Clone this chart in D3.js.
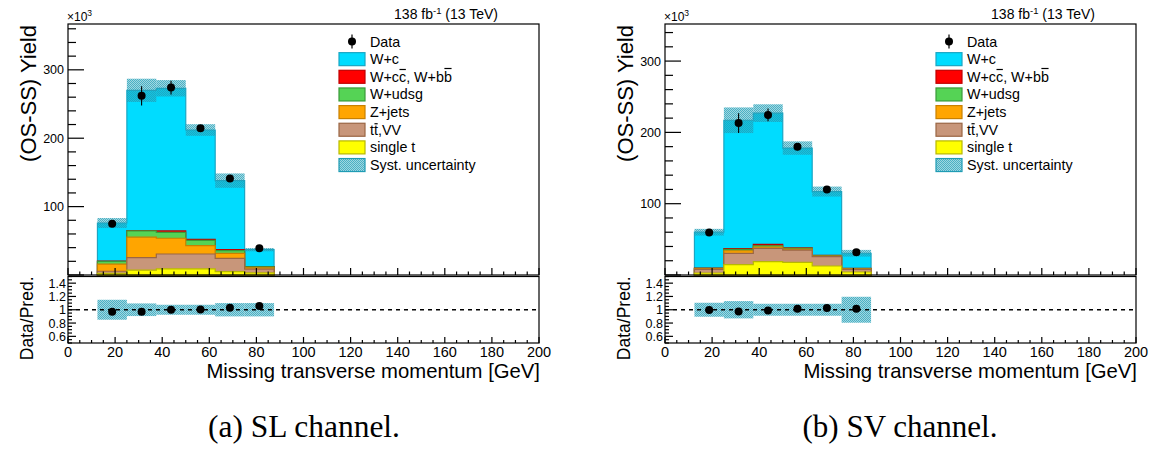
<!DOCTYPE html>
<html><head><meta charset="utf-8">
<script src="https://cdn.jsdelivr.net/npm/d3@7"></script>
<style>
html,body{margin:0;padding:0;background:#fff;}
svg{display:block;}
text{font-family:"Liberation Sans",Arial,sans-serif;fill:#000;}
</style></head>
<body>
<svg id="chart" width="1151" height="449"></svg>
<script>
// ---------------- DATA ----------------
const binEdges = [12.5, 25, 37.5, 50, 62.5, 75, 87.5];
const binCenters = [18.75, 31.25, 43.75, 56.25, 68.75, 81.25];
const xTickLabels = [0, 20, 40, 60, 80, 100, 120, 140, 160, 180, 200];
const yTickLabels = [100, 200, 300];
const ratioTickLabels = [0.6, 0.8, 1, 1.2, 1.4];
const legendLabels = ["Data", "W+c", "W+cc, W+bb", "W+udsg", "Z+jets", "tt,VV", "single t", "Syst. uncertainty"];
// characters (index) in each legend label that carry an overbar
const legendBars = [[], [], [3, 9], [], [], [1], [], []];
const captions = ["(a) SL channel.", "(b) SV channel."];

// SL channel (x10^3)
const slSingleT = [2.5, 7, 9, 9, 5, 3];
const slTtVV = [3, 18.3, 21.7, 21.7, 19.4, 5.5];
const slZjets = [10.5, 30, 23, 12.2, 7.3, 2];
const slWudsg = [4, 9.2, 8.7, 7.8, 3.9, 1.5];
const slWccbb = [0.3, 0.5, 2, 1.5, 1.4, 0.3];
const slWc = [55.7, 205, 208.6, 159.8, 101, 24.7];
const slSyst = [7.3, 17, 12, 8.5, 10.5, 2.4];
const slData = [75, 262, 274, 214.6, 141, 39];
const slDataErr = [3, 14, 10, 4, 5, 2];
const slRatio = [0.97, 0.97, 1.0, 1.005, 1.03, 1.055];
const slRatioErr = [0.15, 0.095, 0.075, 0.075, 0.1, 0.1];

// SV channel (x10^3)
const svSingleT = [2.8, 14.5, 18.7, 17.8, 12.6, 4.2];
const svTtVV = [5.2, 15.9, 18.7, 17.2, 13.1, 3.8];
const svZjets = [1, 3.6, 1.9, 1.2, 0.8, 0.7];
const svWudsg = [0.5, 2, 1.7, 1.2, 0.5, 0.3];
const svWccbb = [0.2, 1, 2, 0.6, 0.5, 0.2];
const svWc = [50.3, 180, 184, 140, 89.5, 21.3];
const svSyst = [4.7, 18, 12.4, 9.4, 7, 4.7];
const svData = [59.5, 213, 224.5, 180, 120, 31.8];
const svDataErr = [3, 14, 9, 5, 4, 2];
const svRatio = [0.995, 0.975, 0.99, 1.015, 1.025, 1.015];
const svRatioErr = [0.105, 0.13, 0.09, 0.09, 0.09, 0.195];

// ---------------- STYLE ----------------
const fills = ["#00dcff", "#ff0000", "#55d355", "#ffa500", "#c8967a", "#ffff00"];
const strokes = ["#1aa6c4", "#c00000", "#3a9a3a", "#c88000", "#9a6644", "#b8b800"];

const svg = d3.select("#chart");
const defs = svg.append("defs");
const pat = defs.append("pattern").attr("id", "hatch").attr("patternUnits", "userSpaceOnUse")
  .attr("width", 2).attr("height", 2);
pat.append("rect").attr("width", 2).attr("height", 2).attr("fill", "#2aa7bd").attr("fill-opacity", 0.45);
pat.append("rect").attr("x", 0).attr("y", 0).attr("width", 1).attr("height", 1).attr("fill", "#1f9cb4").attr("fill-opacity", 0.65);
pat.append("rect").attr("x", 1).attr("y", 1).attr("width", 1).attr("height", 1).attr("fill", "#1f9cb4").attr("fill-opacity", 0.65);

function drawPanel(cfg) {
  const g = svg.append("g");
  const x = d3.scaleLinear().domain([0, 200]).range([cfg.x0, cfg.x1]);
  const y = d3.scaleLinear().domain([0, cfg.yMax]).range([275, 24]);
  const yr = d3.scaleLinear().domain([0.5, 1.5]).range([343, 276.5]);

  const comps = [cfg.singleT, cfg.ttvv, cfg.zjets, cfg.wudsg, cfg.wccbb, cfg.wc];
  const compFill = [fills[5], fills[4], fills[3], fills[2], fills[1], fills[0]];
  const compStroke = [strokes[5], strokes[4], strokes[3], strokes[2], strokes[1], strokes[0]];
  const cum = [];
  let run = binCenters.map(() => 0);
  comps.forEach(c => { run = run.map((v, i) => v + c[i]); cum.push(run.slice()); });
  const total = cum[cum.length - 1];

  const line = d3.line().x(d => x(d[0])).y(d => y(d[1]));
  function stepPts(vals) {
    const pts = [[binEdges[0], 0]];
    vals.forEach((v, i) => { pts.push([binEdges[i], v]); pts.push([binEdges[i + 1], v]); });
    pts.push([binEdges[binEdges.length - 1], 0]);
    return pts;
  }
  for (let k = cum.length - 1; k >= 0; k--) {
    g.append("path").attr("d", line(stepPts(cum[k])) + "Z")
      .attr("fill", compFill[k]).attr("stroke", compStroke[k]).attr("stroke-width", 1.2);
  }
  g.selectAll(".syst").data(binCenters).enter().append("rect")
    .attr("x", (d, i) => x(binEdges[i])).attr("width", (d, i) => x(binEdges[i + 1]) - x(binEdges[i]))
    .attr("y", (d, i) => y(total[i] + cfg.syst[i]))
    .attr("height", (d, i) => y(total[i] - cfg.syst[i]) - y(total[i] + cfg.syst[i]))
    .attr("fill", "url(#hatch)");
  g.selectAll(".derr").data(binCenters).enter().append("line")
    .attr("x1", d => x(d)).attr("x2", d => x(d))
    .attr("y1", (d, i) => y(cfg.data[i] - cfg.dataErr[i])).attr("y2", (d, i) => y(cfg.data[i] + cfg.dataErr[i]))
    .attr("stroke", "#000").attr("stroke-width", 1.1);
  g.selectAll(".dpt").data(binCenters).enter().append("circle")
    .attr("cx", d => x(d)).attr("cy", (d, i) => y(cfg.data[i])).attr("r", 4).attr("fill", "#000");

  g.append("rect").attr("x", cfg.x0).attr("y", 24).attr("width", cfg.x1 - cfg.x0).attr("height", 251)
    .attr("fill", "none").attr("stroke", "#000").attr("stroke-width", 1.2);
  d3.range(0, cfg.yMax + 0.1, 20).forEach(v => {
    const major = v % 100 === 0;
    g.append("line").attr("x1", cfg.x0).attr("x2", cfg.x0 + (major ? 16 : 8))
      .attr("y1", y(v)).attr("y2", y(v)).attr("stroke", "#000").attr("stroke-width", 1.2);
  });
  yTickLabels.forEach(v => {
    g.append("text").attr("x", cfg.x0 - 4).attr("y", y(v) + 4.5).attr("text-anchor", "end")
      .attr("font-size", 12.5).text(v);
  });
  d3.range(0, 201, 5).forEach(v => {
    const major = v % 20 === 0;
    g.append("line").attr("x1", x(v)).attr("x2", x(v)).attr("y1", 275).attr("y2", 275 - (major ? 7 : 3.5))
      .attr("stroke", "#000").attr("stroke-width", 1.2);
  });
  const e = g.append("text").attr("x", cfg.x0 - 1).attr("y", 21).attr("font-size", 12);
  e.append("tspan").text("×10");
  e.append("tspan").attr("dy", -5).attr("font-size", 8.5).text("3");
  const lt = g.append("text").attr("x", cfg.x0 + 430).attr("y", 18.5).attr("text-anchor", "end").attr("font-size", 14);
  lt.append("tspan").text("138 fb");
  lt.append("tspan").attr("dy", -5).attr("font-size", 9.5).text("-1");
  lt.append("tspan").attr("dy", 5).text(" (13 TeV)");
  g.append("text").attr("transform", `translate(${cfg.x0 - 32},25) rotate(-90)`).attr("text-anchor", "end")
    .attr("font-size", 22).text("(OS-SS) Yield");

  // legend
  const lx = cfg.x0 + 271, ly0 = 41.5, ldy = 17.65;
  legendLabels.forEach((lab, i) => {
    const yy = ly0 + i * ldy;
    if (i === 0) {
      g.append("line").attr("x1", lx + 13).attr("x2", lx + 13).attr("y1", yy - 7).attr("y2", yy + 7)
        .attr("stroke", "#000").attr("stroke-width", 1.2);
      g.append("circle").attr("cx", lx + 13).attr("cy", yy).attr("r", 4).attr("fill", "#000");
    } else if (i < 7) {
      g.append("rect").attr("x", lx).attr("y", yy - 6.5).attr("width", 26).attr("height", 13)
        .attr("fill", fills[i - 1]).attr("stroke", strokes[i - 1]).attr("stroke-width", 1.2);
    } else {
      g.append("rect").attr("x", lx).attr("y", yy - 6.5).attr("width", 26).attr("height", 13)
        .attr("fill", "url(#hatch)").attr("stroke", "#1f9cb4").attr("stroke-width", 1.2);
    }
    const tx = lx + 31, ty = yy + 5;
    const t = g.append("text").attr("x", tx).attr("y", ty).attr("font-size", 14.3).text(lab);
    legendBars[i].forEach(ci => {
      if (ci >= lab.length) return;
      const node = t.node();
      const x0 = tx + (ci > 0 ? node.getSubStringLength(0, ci) : 0);
      const w = node.getSubStringLength(ci, 1);
      const ch = lab[ci];
      const h = ch === "c" ? 12.3 : ch === "b" ? 13.3 : 11;
      g.append("line").attr("x1", x0 + 0.5).attr("x2", x0 + w - 0.3).attr("y1", ty - h).attr("y2", ty - h)
        .attr("stroke", "#000").attr("stroke-width", 1.2);
    });
  });

  // ratio panel
  g.selectAll(".rband").data(binCenters).enter().append("rect")
    .attr("x", (d, i) => x(binEdges[i])).attr("width", (d, i) => x(binEdges[i + 1]) - x(binEdges[i]))
    .attr("y", (d, i) => yr(1 + cfg.ratioErr[i])).attr("height", (d, i) => yr(1 - cfg.ratioErr[i]) - yr(1 + cfg.ratioErr[i]))
    .attr("fill", "url(#hatch)");
  g.append("line").attr("x1", cfg.x0).attr("x2", cfg.x1).attr("y1", yr(1)).attr("y2", yr(1))
    .attr("stroke", "#000").attr("stroke-width", 1.5).attr("stroke-dasharray", "4,4");
  g.selectAll(".rpt").data(binCenters).enter().append("circle")
    .attr("cx", d => x(d)).attr("cy", (d, i) => yr(cfg.ratio[i])).attr("r", 4).attr("fill", "#000");
  g.append("rect").attr("x", cfg.x0).attr("y", 276.5).attr("width", cfg.x1 - cfg.x0).attr("height", 66.5)
    .attr("fill", "none").attr("stroke", "#000").attr("stroke-width", 1.2);
  d3.range(0.5, 1.501, 0.05).forEach(v => {
    const major = Math.abs(v * 5 - Math.round(v * 5)) < 1e-6;
    g.append("line").attr("x1", cfg.x0).attr("x2", cfg.x0 + (major ? 8 : 4))
      .attr("y1", yr(v)).attr("y2", yr(v)).attr("stroke", "#000").attr("stroke-width", 1.2);
  });
  ratioTickLabels.forEach(v => {
    g.append("text").attr("x", cfg.x0 - 2).attr("y", yr(v) + 4.5).attr("text-anchor", "end")
      .attr("font-size", 12.5).text(v);
  });
  d3.range(0, 201, 5).forEach(v => {
    const major = v % 20 === 0;
    g.append("line").attr("x1", x(v)).attr("x2", x(v)).attr("y1", 343).attr("y2", 343 - (major ? 6 : 3))
      .attr("stroke", "#000").attr("stroke-width", 1.2);
  });
  xTickLabels.forEach(v => {
    g.append("text").attr("x", x(v)).attr("y", 357).attr("text-anchor", "middle")
      .attr("font-size", 14.5).text(v);
  });
  g.append("text").attr("x", cfg.x1 + 1).attr("y", 378).attr("text-anchor", "end")
    .attr("font-size", 20.3).text("Missing transverse momentum [GeV]");
  g.append("text").attr("transform", `translate(${cfg.x0 - 35},276.5) rotate(-90)`).attr("text-anchor", "end")
    .attr("font-size", 17.5).text("Data/Pred.");

  const cap = g.append("text").attr("x", cfg.capX).attr("y", 437).attr("text-anchor", "middle")
    .style("font-family", '"Liberation Serif","DejaVu Serif",serif').attr("font-size", 24).text(cfg.caption);
  const len = cap.node().getComputedTextLength();
  cap.attr("font-size", 24 * cfg.capW / len);
}

drawPanel({x0: 68, x1: 539, yMax: 367, singleT: slSingleT, ttvv: slTtVV, zjets: slZjets, wudsg: slWudsg,
  wccbb: slWccbb, wc: slWc, syst: slSyst, data: slData, dataErr: slDataErr, ratio: slRatio, ratioErr: slRatioErr,
  caption: captions[0], capX: 304, capW: 192});
drawPanel({x0: 665, x1: 1136, yMax: 352, singleT: svSingleT, ttvv: svTtVV, zjets: svZjets, wudsg: svWudsg,
  wccbb: svWccbb, wc: svWc, syst: svSyst, data: svData, dataErr: svDataErr, ratio: svRatio, ratioErr: svRatioErr,
  caption: captions[1], capX: 900, capW: 195});
</script>
</body></html>
